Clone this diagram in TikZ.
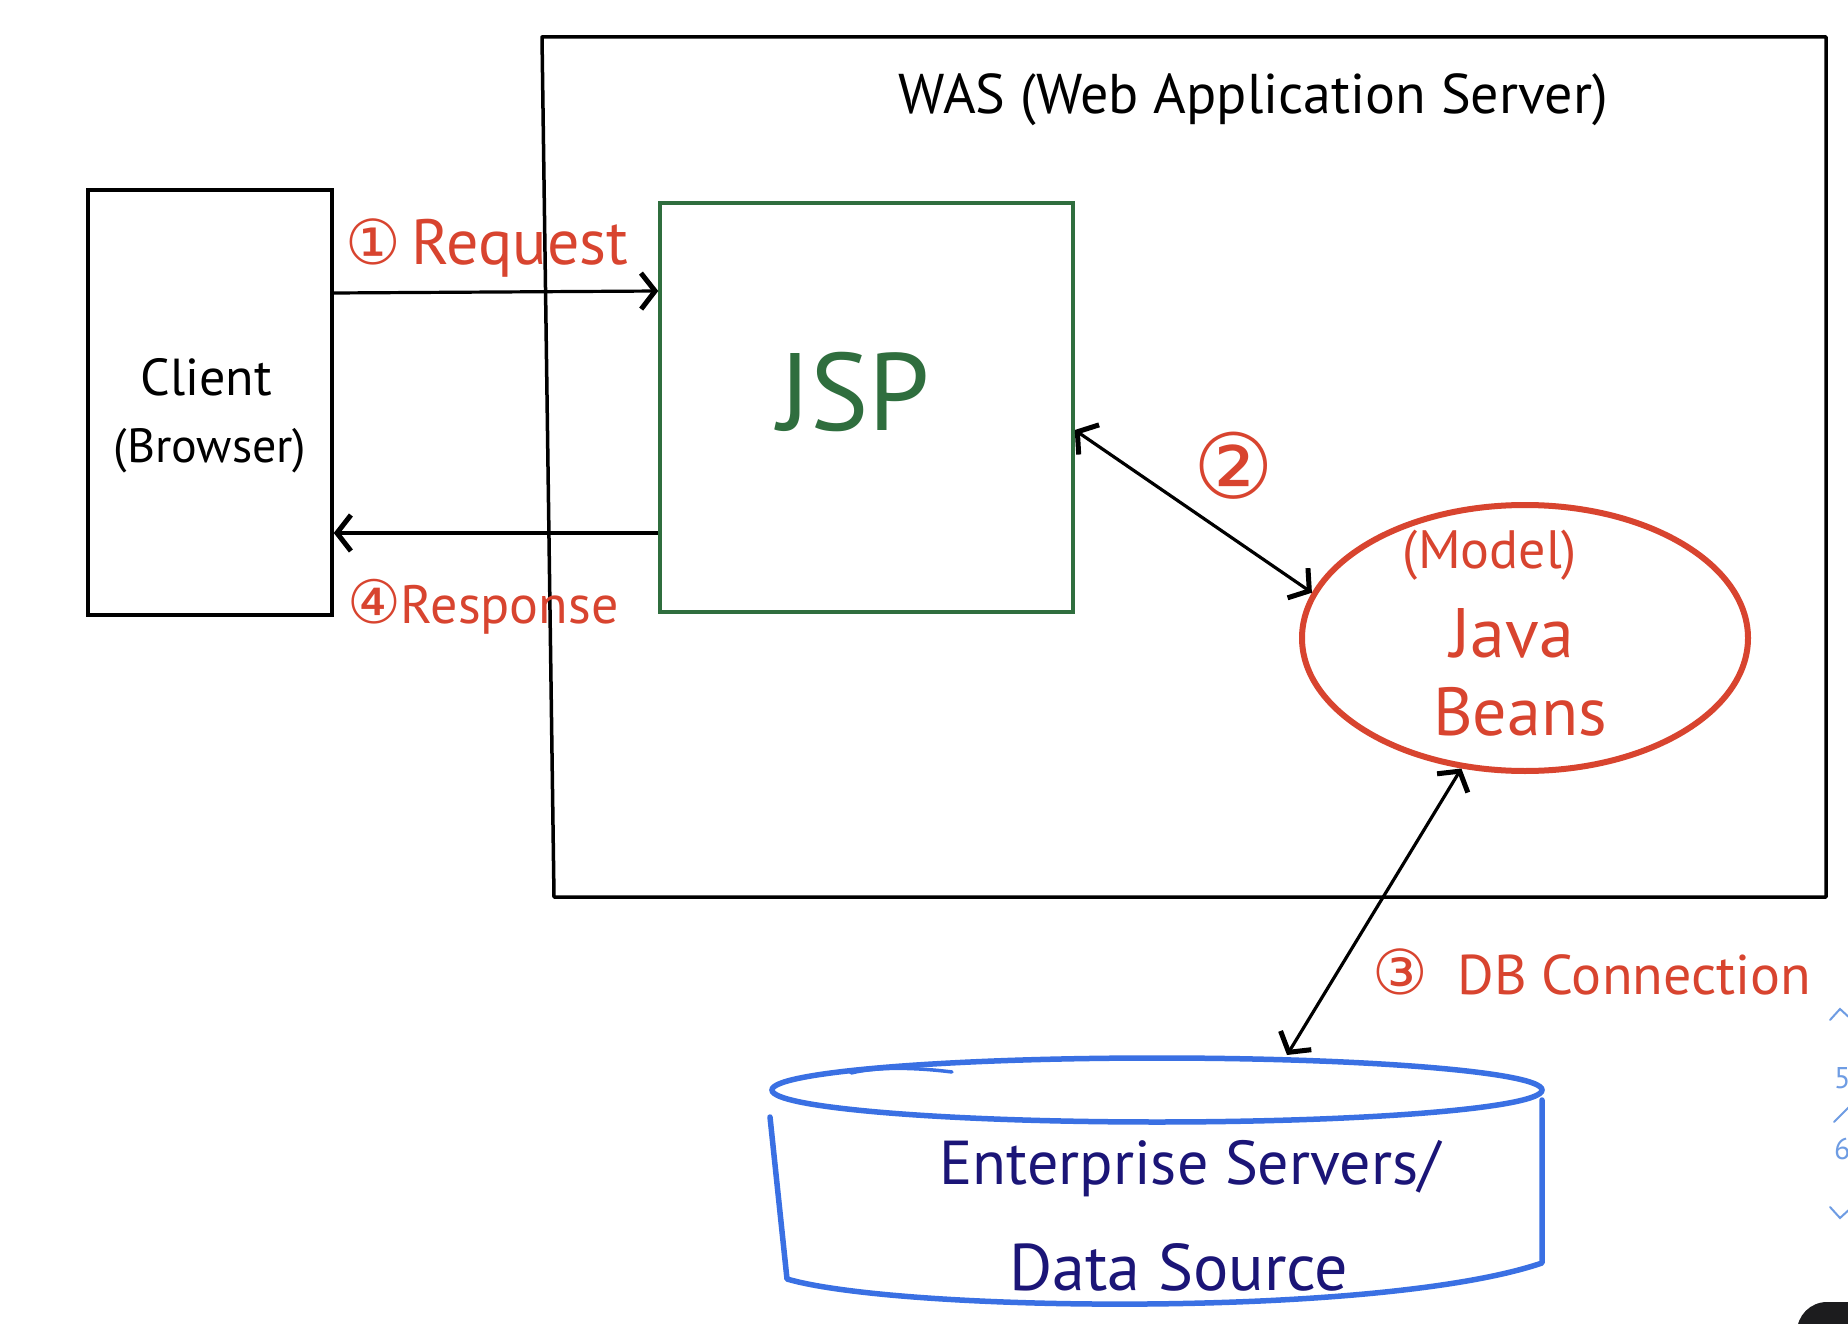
\documentclass[tikz,border=0pt]{standalone}
\usepackage{fontspec}
\setmainfont{PT Sans}
\newfontfamily\circfont{DejaVu Sans}
\usetikzlibrary{arrows.meta,shapes.geometric,calc}
\definecolor{hred}{HTML}{D8442F}
\definecolor{hgreen}{HTML}{2F6E3E}
\definecolor{hblue}{HTML}{3A70E3}
\definecolor{hnavy}{HTML}{1B1577}
\definecolor{uiblue}{HTML}{6E9CE3}
\definecolor{uidark}{HTML}{1C1C1E}
\newcommand{\fsz}[1]{\fontsize{#1}{#1}\selectfont}
\tikzset{
  >={Straight Barb[length=14pt,width=36pt,line width=5pt]},
  frame/.style={line width=3.5pt, black, line join=round},
  boxnode/.style={draw, rectangle, line width=3.5pt, inner sep=0pt},
  conn/.style={line width=3.2pt, black},
  lbl/.style={inner sep=0pt, anchor=center},
  redlbl/.style={lbl, text=hred},
  navylbl/.style={lbl, text=hnavy},
  dbline/.style={line width=5.5pt, hblue, line cap=round, line join=round},
  uitext/.style={inner sep=0pt, anchor=west, text=uiblue, font=\fsz{30}},
  uiline/.style={line width=2pt, uiblue, line cap=round}
}
\begin{document}
\begin{tikzpicture}[x=1pt,y=-1pt]
\useasboundingbox[fill=white] (0,0) rectangle (1848,1324);

% WAS container
\coordinate (wasTL) at (542,37);
\coordinate (wasTR) at (1826,37);
\coordinate (wasBR) at (1826,897);
\coordinate (wasBL) at (554,897);
\draw[frame] (wasTL) -- (wasTR) -- (wasBR) -- (wasBL) -- cycle;
\node[lbl, font=\fsz{56}] (wastitle) at (1253,100) {WAS (Web Application Server)};

% Client
\node[boxnode, minimum width=244pt, minimum height=425pt] (client) at (210,402.5) {};
\node[lbl, font=\fsz{52}] (clientt) at (206,377) {Client};
\node[lbl, font=\fsz{48}] (browsert) at (210,451) {(Browser)};

% JSP
\node[boxnode, draw=hgreen, minimum width=413pt, minimum height=409pt] (jsp) at (866.5,407.5) {};
\node[lbl, text=hgreen, font=\fsz{110}] (jspt) at (854,392) {JSP};

% Java Beans
\node[draw=hred, ellipse, line width=6pt, minimum width=446pt, minimum height=266pt, inner sep=0pt] (jb) at (1525,638) {};
\node[redlbl, font=\fsz{54}] (modelt) at (1490,555) {(Model)};
\node[redlbl, font=\fsz{70}] (javat) at (1512,633) {Java};
\node[redlbl, font=\fsz{68}] (beanst) at (1520,712) {Beans};

% Database cylinder
\node[ellipse, draw=hblue, line width=5.5pt, minimum width=770pt, minimum height=64pt, inner sep=0pt] (db) at (1157,1090) {};
\coordinate (dbtop) at (1287,1055);
\coordinate (dbLT) at (770,1117);
\coordinate (dbLB) at (787,1279);
\coordinate (dbRT) at (1542,1100);
\coordinate (dbRB) at (1542,1263);
\draw[dbline] (dbLT) -- (dbLB) .. controls (900,1312) and (1380,1318) .. (dbRB) -- (dbRT);
\draw[dbline, line width=3.5pt] (851,1073) .. controls (880,1066) and (920,1068) .. (952,1072);
\node[navylbl, font=\fsz{62}] (entt) at (1190,1169) {Enterprise Servers/};
\node[navylbl, font=\fsz{66}] (dst) at (1179,1267) {Data Source};

% Connectors
\draw[conn, ->] ([yshift=109.5pt]client.east) -- ([yshift=116.5pt]jsp.west);
\draw[conn, ->] ([yshift=-125.5pt]jsp.west) -- ([yshift=-130.5pt]client.east);
\draw[conn, <->] ([yshift=-22.5pt]jsp.east) -- (jb.168);
\draw[conn, <->] (jb.244) -- (dbtop);

% Red step labels
\node[redlbl, anchor=west, font=\fsz{64}] (reqt) at (345,248) {{\circfont\fsz{62}①}\,Request};
\node[redlbl, anchor=west, font=\fsz{54}] (rest) at (347,607) {{\circfont\fsz{60}④}Response};
\node[redlbl, font=\fsz{90}] (twot) at (1234,466) {\circfont ②};
\node[redlbl, anchor=west, font=\fsz{56}] (dbct) at (1372,972) {{\circfont\fsz{62}③}\ \ DB Connection};

% Screen UI fragments at the right edge
\draw[uiline] (1830,1020) -- (1840,1009) -- (1852,1020);
\node[uitext] (ui5) at (1834,1078) {5};
\draw[uiline] (1834,1122) -- (1850,1106);
\node[uitext] (ui6) at (1834,1149) {6};
\draw[uiline] (1830,1207) -- (1840,1218) -- (1852,1207);
\fill[uidark, rounded corners=30pt] (1797,1302) rectangle (1900,1400);
\end{tikzpicture}
\end{document}
